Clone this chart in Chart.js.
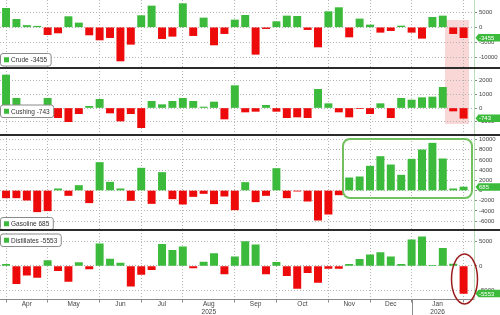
<!DOCTYPE html>
<html><head><meta charset="utf-8">
<script src="https://cdn.jsdelivr.net/npm/chart.js@4/dist/chart.umd.min.js"></script>
<style>
html,body{margin:0;padding:0;background:#fff;}
#wrap{position:relative;width:500px;height:315px;overflow:hidden;background:#fff;}
.pane{position:absolute;left:0;width:500px;z-index:2;}
.pane canvas{display:block;}
#pink{position:absolute;left:445px;top:20px;width:24px;height:104px;background:rgba(240,150,150,0.38);z-index:1;}
.sep{position:absolute;left:0;width:500px;height:2px;background:#2b2b2b;z-index:3;}
svg{position:absolute;left:0;top:0;z-index:4;}
</style></head>
<body><div id="wrap">
<div id="pink"></div>
<div class="pane" style="top:0;height:68px"><canvas id="c0" width="500" height="68"></canvas></div>
<div class="pane" style="top:68px;height:67px"><canvas id="c1" width="500" height="67"></canvas></div>
<div class="pane" style="top:135px;height:95px"><canvas id="c2" width="500" height="95"></canvas></div>
<div class="pane" style="top:230px;height:85px"><canvas id="c3" width="500" height="85"></canvas></div>
<div class="sep" style="top:67px"></div>
<div class="sep" style="top:134px"></div>
<div class="sep" style="top:229px"></div>
<svg width="500" height="315">
<rect x="343" y="139" width="129" height="59" rx="7" fill="none" stroke="#72c060" stroke-width="2"/>
<ellipse cx="464.5" cy="279" rx="13" ry="25" fill="none" stroke="#9b1c1c" stroke-width="1.5"/>
</svg>
</div>
<script>
const FONT = '"Liberation Sans", Arial, sans-serif';
const GREEN = '#3cba3c', RED = '#ec0a0a';

const weeks = ['2025-03-28','2025-04-04','2025-04-11','2025-04-18','2025-04-25','2025-05-02','2025-05-09','2025-05-16','2025-05-23','2025-05-30',
  '2025-06-06','2025-06-13','2025-06-20','2025-06-27','2025-07-04','2025-07-11','2025-07-18','2025-07-25','2025-08-01','2025-08-08',
  '2025-08-15','2025-08-22','2025-08-29','2025-09-05','2025-09-12','2025-09-19','2025-09-26','2025-10-03','2025-10-10','2025-10-17',
  '2025-10-24','2025-10-31','2025-11-07','2025-11-14','2025-11-21','2025-11-28','2025-12-05','2025-12-12','2025-12-19','2025-12-26',
  '2026-01-02','2026-01-09','2026-01-16','2026-01-23','2026-01-30'];

const crude = [6333, 2667, 600, 350, -2444, -1889, 3556, 1444, -2556, -4222, -3444, -11222, -5667, 3889, 7111, -3778, -3000, 7889, -2778, 3111,
  -5889, -2111, 2444, 4000, -9000, -444, 1889, 3778, 3667, -778, -6556, 5222, 6556, -3222, 2778, 778, -1667, -1111, 444, -1667,
  -3667, 3333, 3778, -2111, -3455];
const cushing = [2386, 699, -241, -80, 699, -699, -988, -410, 120, 627, -361, -940, -410, -1422, 482, 241, 482, 699, 482, 72,
  434, -795, 1615, -289, -241, 193, -241, -699, -651, -699, 1350, 313, -289, -651, -30, -410, 313, -699, 699, 578,
  747, 795, 1494, -217, -743];
const gasoline = [-1439, -1439, -1896, -4176, -3980, 330, -980, 980, -2410, 5490, 1630, 330, -1960, 4380, -2550, 3530, -1630, -2680, -1180, -590,
  -2610, -1110, -3790, 1570, -2220, -980, 4310, -1440, -130, -2090, -5820, -4640, -850, 2480, 2680, 4770, 6660, 5030, 3010, 6140,
  7970, 9280, 6210, 330, 685];
const distillates = [340, -3580, -1830, -2300, 1080, -950, -3110, 680, -610, 4460, 1420, 610, -4060, -1690, -740, 4390, 3180, 3850, -410, 810,
  2500, -1620, 1830, 4930, 4260, -1620, 740, -1960, -4530, -1350, -3310, -470, -470, 340, 1350, 2230, 2700, 1830, 340, 5270,
  5880, 135, 3580, 400, -5553];

const monthLabels = ['Apr','May','Jun','Jul',['Aug','2025'],'Sep','Oct','Nov','Dec',['Jan','2026']];
const crudeTicks = [-10000, -5000, 0, 5000];
const cushingTicks = [-1000, 0, 1000, 2000];
const gasolineTicks = [-6000, -4000, -2000, 0, 2000, 4000, 6000, 8000, 10000];
const distillatesTicks = [-5000, 0, 5000];

// month boundaries = last week of each month
const boundaries = [];
for (let i = 0; i < weeks.length; i++) {
  if (i === weeks.length - 1 || weeks[i].slice(0, 7) !== weeks[i + 1].slice(0, 7)) boundaries.push(i);
}
const centers = [];
for (let k = 1; k < boundaries.length; k++) centers.push((boundaries[k - 1] + boundaries[k]) / 2);
const yearBreaks = boundaries.filter(b => b < weeks.length - 1 && weeks[b].slice(0, 4) !== weeks[b + 1].slice(0, 4));

const XMIN = -0.58, XMAX = 45.0;
const isBoundary = v => boundaries.indexOf(v) >= 0;
const GRID = '#b4b4b4';

function xScale(bottom) {
  const tickVals = bottom ? boundaries.concat(centers).sort((a, b) => a - b) : boundaries.slice();
  return {
    type: 'linear', min: XMIN, max: XMAX, offset: false,
    afterBuildTicks: s => { s.ticks = tickVals.map(v => ({value: v})); },
    afterFit: s => { s.paddingLeft = 0; s.paddingRight = 0; if (bottom) s.height = 15.5; },
    grid: {
      offset: false, lineWidth: 1, drawTicks: bottom, tickLength: 3,
      color: c => (c.tick && isBoundary(c.tick.value)) ? GRID : 'rgba(0,0,0,0)',
      tickColor: c => (c.tick && isBoundary(c.tick.value)) ? '#8a8a8a' : 'rgba(0,0,0,0)'
    },
    border: {display: bottom, color: '#8a8a8a', width: 1, dash: [1, 2]},
    ticks: {
      display: bottom, autoSkip: false, maxRotation: 0, minRotation: 0, padding: -2.4,
      color: '#444', font: {family: FONT, size: 6.5, lineHeight: 1.2},
      callback: v => { const k = centers.indexOf(v); return k >= 0 ? monthLabels[k] : ''; }
    }
  };
}

function yScale(min, max, ticks) {
  return {
    position: 'right', min: min, max: max,
    afterBuildTicks: s => { s.ticks = ticks.map(v => ({value: v})); },
    afterFit: s => { s.width = 26; s.paddingTop = 0; s.paddingBottom = 0; },
    grid: {color: GRID, lineWidth: 1, drawTicks: true, tickLength: 3, tickColor: '#8a8a8a'},
    border: {display: true, color: '#b9dcb9', width: 1, dash: [1, 2]},
    ticks: {padding: 2, color: '#444', font: {family: FONT, size: 6}, callback: v => String(v)}
  };
}

function roundRect(ctx, x, y, w, h, r) {
  ctx.beginPath();
  ctx.moveTo(x + r, y);
  ctx.arcTo(x + w, y, x + w, y + h, r);
  ctx.arcTo(x + w, y + h, x, y + h, r);
  ctx.arcTo(x, y + h, x, y, r);
  ctx.arcTo(x, y, x + w, y, r);
  ctx.closePath();
}

function decor(name, values, legendTop, bottom) {
  return {
    id: 'decor',
    afterDraw(chart) {
      const ctx = chart.ctx;
      const last = values[values.length - 1];
      ctx.save();
      // legend box
      ctx.font = '6.5px ' + FONT;
      const text = name + ' ' + last;
      const tw = ctx.measureText(text).width;
      const bh = 12.5, bw = 11 + tw + 3.5;
      roundRect(ctx, 0.5, legendTop + 0.5, bw, bh, 2.5);
      ctx.fillStyle = '#fff'; ctx.fill();
      ctx.strokeStyle = '#8a8a8a'; ctx.lineWidth = 1; ctx.stroke();
      ctx.fillStyle = GREEN;
      ctx.fillRect(4, legendTop + 0.5 + bh / 2 - 2.5, 5, 5);
      ctx.fillStyle = '#333'; ctx.textBaseline = 'middle'; ctx.textAlign = 'left';
      ctx.fillText(text, 11, legendTop + 0.5 + bh / 2 + 0.5);
      // value tag on the right axis
      const ys = chart.scales.y;
      const py = ys.getPixelForValue(last);
      const tx = 475.5, th = 7.5;
      ctx.fillStyle = GREEN;
      ctx.beginPath();
      ctx.moveTo(tx, py);
      ctx.lineTo(tx + 3, py - th / 2);
      ctx.lineTo(500, py - th / 2);
      ctx.lineTo(500, py + th / 2);
      ctx.lineTo(tx + 3, py + th / 2);
      ctx.closePath(); ctx.fill();
      ctx.fillStyle = '#fff'; ctx.font = '6px ' + FONT;
      ctx.fillText(String(last), tx + 3.5, py + 0.5);
      // year separators under the axis
      if (bottom) {
        const xs = chart.scales.x;
        ctx.strokeStyle = '#8a8a8a'; ctx.lineWidth = 1;
        yearBreaks.forEach(b => {
          const px = Math.round(xs.getPixelForValue(b)) + 0.5;
          ctx.beginPath(); ctx.moveTo(px, chart.chartArea.bottom); ctx.lineTo(px, chart.height); ctx.stroke();
        });
      }
      ctx.restore();
    }
  };
}

function makeChart(id, name, values, yMin, yMax, yTicks, legendTop, bottom) {
  const data = values.map((v, i) => ({x: i, y: v}));
  return new Chart(document.getElementById(id), {
    type: 'bar',
    data: {datasets: [{
      label: name, data: data, barThickness: 7.3, borderWidth: 0,
      backgroundColor: c => (c.raw && c.raw.y < 0) ? RED : GREEN
    }]},
    options: {
      responsive: false, animation: false,
      layout: {padding: 0},
      plugins: {legend: {display: false}, tooltip: {enabled: false}},
      scales: {x: xScale(bottom), y: yScale(yMin, yMax, yTicks)}
    },
    plugins: [decor(name, values, legendTop, bottom)]
  });
}

makeChart('c0', 'Crude', crude, -13567, 9100, crudeTicks, 53, false);
makeChart('c1', 'Cushing', cushing, -1952, 2892, cushingTicks, 36.5, false);
makeChart('c2', 'Gasoline', gasoline, -7745, 10882, gasolineTicks, 82, false);
makeChart('c3', 'Distillates', distillates, -6754, 7258, distillatesTicks, 3.5, true);
</script>
</body></html>
